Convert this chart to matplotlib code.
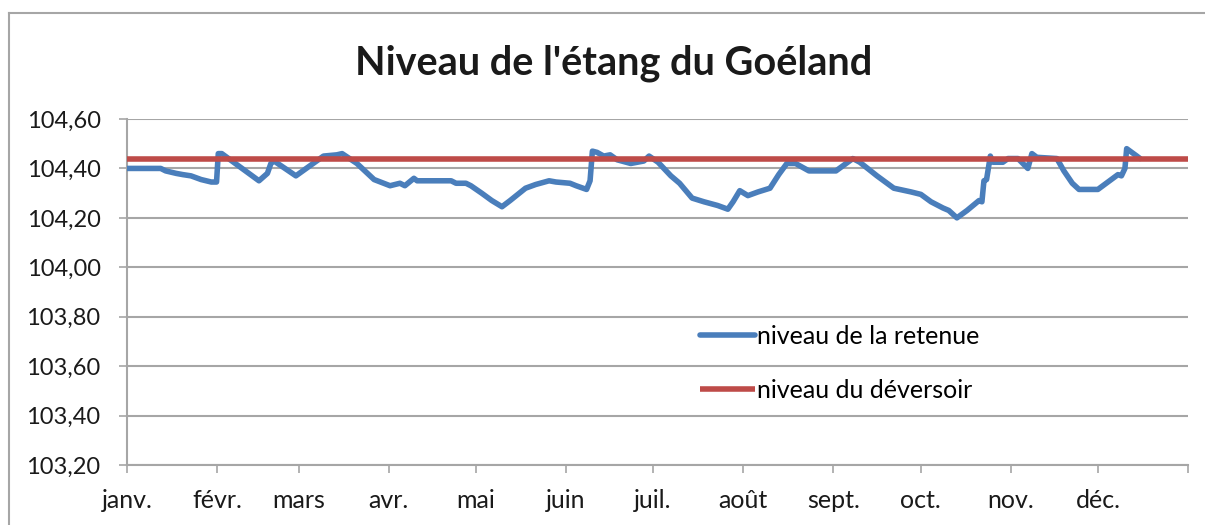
import matplotlib.pyplot as plt
from matplotlib.lines import Line2D

# day of year (0 = 1 janv.) and water level
days = [0, 11.6, 13.3, 16.9, 19.2, 22, 25.5, 29, 30.8, 31.4, 32.6, 45.4, 48.3,
        49.5, 50.6, 58.1, 67.6, 72.2, 74, 79.1, 85, 90.5, 93.9, 95.6, 98.7,
        99.8, 111.5, 113.2, 116.6, 118.3, 122, 125.5, 129, 131.8, 137.1, 140.6,
        145.2, 147.6, 152.4, 154.5, 158.1, 159.3, 160.1, 161.7, 164, 166.2,
        168.6, 173.3, 177.8, 179.6, 182.7, 187.1, 190.1, 194.4, 198.5, 203.2,
        206.7, 208.5, 210.8, 213.6, 217.1, 221.2, 224.2, 227, 230, 234.6,
        243.9, 249.7, 252.1, 258, 263.8, 269.7, 273.1, 276.6, 280.7, 282.7,
        285.5, 289, 293.1, 294.1, 294.8, 295.7, 297, 297.9, 301.3, 303.1,
        306.5, 309.9, 311.3, 313, 319.9, 322.3, 325.2, 327.5, 334, 340.9,
        342.1, 343.3, 343.9, 347.4, 348.5]
level = [104.40, 104.40, 104.39, 104.38, 104.375, 104.37, 104.355, 104.345,
         104.345, 104.46, 104.46, 104.35, 104.38, 104.42, 104.43, 104.37,
         104.45, 104.455, 104.46, 104.42, 104.355, 104.33, 104.34, 104.33,
         104.36, 104.35, 104.35, 104.34, 104.34, 104.33, 104.30, 104.27,
         104.245, 104.27, 104.32, 104.335, 104.35, 104.345, 104.34, 104.33,
         104.315, 104.35, 104.47, 104.465, 104.45, 104.455, 104.435, 104.42,
         104.43, 104.45, 104.425, 104.37, 104.34, 104.28, 104.265, 104.25,
         104.235, 104.265, 104.31, 104.29, 104.305, 104.32, 104.375, 104.42,
         104.42, 104.39, 104.39, 104.44, 104.425, 104.37, 104.32, 104.305,
         104.295, 104.265, 104.24, 104.23, 104.20, 104.23, 104.27, 104.265,
         104.35, 104.355, 104.45, 104.425, 104.425, 104.44, 104.44, 104.40,
         104.46, 104.445, 104.44, 104.39, 104.34, 104.315, 104.315, 104.375,
         104.37, 104.40, 104.48, 104.45, 104.44]
weir_days = [0, 365]
weir_level = [104.44, 104.44]

month_starts = [0, 31, 59, 90, 120, 151, 181, 212, 243, 273, 304, 334, 365]
month_labels = ['janv.', 'févr.', 'mars', 'avr.', 'mai', 'juin', 'juil.',
                'août', 'sept.', 'oct.', 'nov.', 'déc.', '']
y_ticks = [103.2, 103.4, 103.6, 103.8, 104.0, 104.2, 104.4, 104.6]

plt.rcParams['font.family'] = ['Lato', 'DejaVu Sans']
grey = '#A6A6A6'

fig = plt.figure(figsize=(12.05, 5.25), dpi=100)
ax = fig.add_axes([127 / 1205, 60 / 525, 1061 / 1205, 346 / 525])

ax.plot(days, level, color='#4A7EBB', lw=4, solid_capstyle='round',
        solid_joinstyle='round', label='niveau de la retenue', zorder=3)
ax.plot(weir_days, weir_level, color='#BE4B48', lw=4, solid_capstyle='butt',
        label='niveau du déversoir', zorder=4)

ax.set_xlim(0, 365)
ax.set_ylim(103.2, 104.6)
ax.set_xticks(month_starts)
ax.set_xticklabels(month_labels, fontsize=18, color='#1a1a1a')
ax.set_yticks(y_ticks)
ax.set_yticklabels([f'{v:.2f}'.replace('.', ',') for v in y_ticks],
                   fontsize=17, color='#1a1a1a')
ax.tick_params(axis='both', color=grey, length=6, width=1.2)
ax.tick_params(axis='x', pad=11)
ax.tick_params(axis='y', pad=13)
ax.grid(axis='y', color=grey, lw=1.5)
ax.set_axisbelow(True)
for side in ['top', 'right']:
    ax.spines[side].set_visible(False)
for side in ['left', 'bottom']:
    ax.spines[side].set_color(grey)
    ax.spines[side].set_linewidth(1.5)

ax.legend(loc='upper left', bbox_to_anchor=(0.540, 0.405), frameon=False,
          fontsize=18, handlelength=2.2, handletextpad=0.1, labelspacing=1.25,
          borderaxespad=0, borderpad=0)

fig.text(0.5095, 0.879, "Niveau de l'étang du Goéland", ha='center',
         va='center', fontsize=28.5, fontweight='bold', color='#1a1a1a')

# outer chart border (left and top)
fig.add_artist(Line2D([9 / 1205, 9 / 1205], [0, 1 - 13 / 525], color=grey, lw=1.5))
fig.add_artist(Line2D([9 / 1205, 1], [1 - 13 / 525, 1 - 13 / 525], color=grey, lw=1.5))

fig.savefig('out.png', dpi=100)
